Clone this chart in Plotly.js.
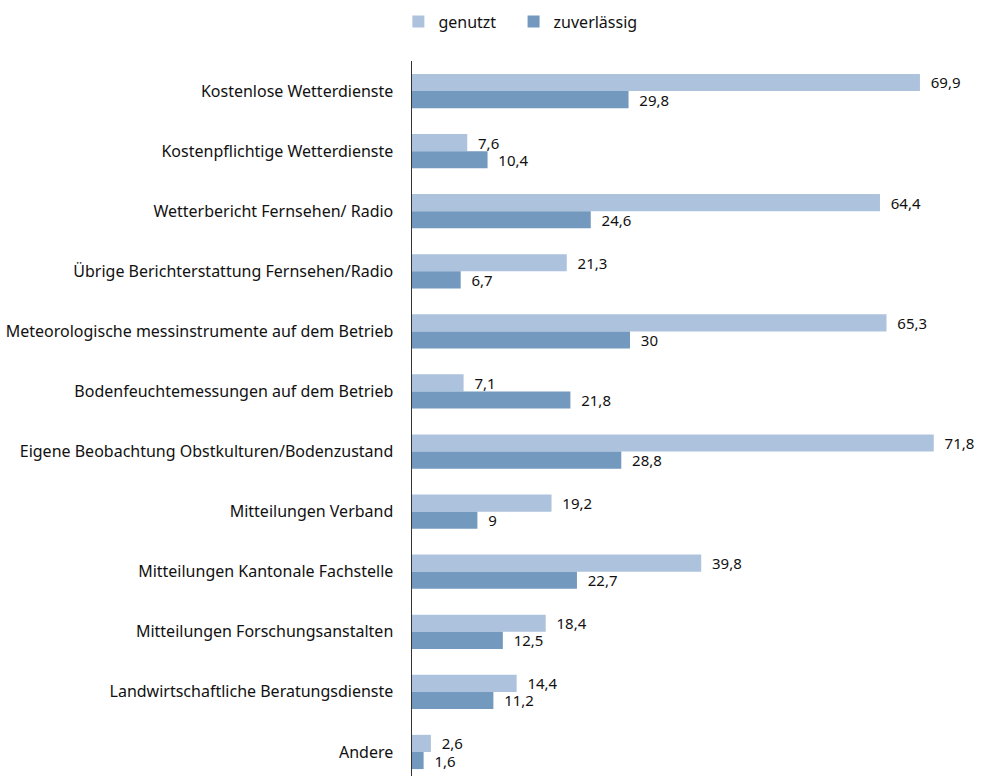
<!DOCTYPE html>
<html>
<head>
<meta charset="utf-8">
<script src="https://cdn.plot.ly/plotly-3.0.1.min.js"></script>
<style>html,body{margin:0;padding:0;background:#fff;}#chart{width:982px;height:776px;}</style>
</head>
<body>
<div id="chart"></div>
<script>
const categories = [
  "Kostenlose Wetterdienste",
  "Kostenpflichtige Wetterdienste",
  "Wetterbericht Fernsehen/ Radio",
  "Übrige Berichterstattung Fernsehen/Radio",
  "Meteorologische messinstrumente auf dem Betrieb",
  "Bodenfeuchtemessungen auf dem Betrieb",
  "Eigene Beobachtung Obstkulturen/Bodenzustand",
  "Mitteilungen Verband",
  "Mitteilungen Kantonale Fachstelle",
  "Mitteilungen Forschungsanstalten",
  "Landwirtschaftliche Beratungsdienste",
  "Andere"
];
const genutzt = [69.9, 7.6, 64.4, 21.3, 65.3, 7.1, 71.8, 19.2, 39.8, 18.4, 14.4, 2.6];
const zuverlaessig = [29.8, 10.4, 24.6, 6.7, 30, 21.8, 28.8, 9, 22.7, 12.5, 11.2, 1.6];

const fmt = v => "\u00a0\u00a0" + String(v).replace(".", ",");
const font = {family: "Noto Sans, Open Sans, sans-serif", size: 16, color: "#111"};
const valFont = {family: "Noto Sans, Open Sans, sans-serif", size: 15, color: "#111"};

const traces = [
  {type: "bar", orientation: "h", name: "genutzt\u00a0\u00a0\u00a0", y: categories, x: genutzt,
   marker: {color: "#adc2dd"}, text: genutzt.map(fmt), textposition: "outside",
   textfont: valFont, constraintext: "none", cliponaxis: false, hoverinfo: "x+y"},
  {type: "bar", orientation: "h", name: "zuverlässig", y: categories, x: zuverlaessig,
   marker: {color: "#7399bf"}, text: zuverlaessig.map(fmt), textposition: "outside",
   textfont: valFont, constraintext: "none", cliponaxis: false, hoverinfo: "x+y"}
];

const layout = {
  width: 982, height: 776,
  margin: {l: 412, r: 25, t: 61, b: 0},
  paper_bgcolor: "#fff", plot_bgcolor: "#fff",
  font: font,
  barmode: "group", bargap: 0.43, bargroupgap: 0,
  xaxis: {range: [0, 75], showgrid: false, zeroline: false, showticklabels: false, showline: false, fixedrange: true},
  yaxis: {type: "category", range: [11.4, -0.5], autorange: false, showgrid: false, zeroline: false,
          showline: true, linecolor: "#333", linewidth: 1.5, ticks: "", ticklabelstandoff: 14,
          tickfont: font, automargin: false},
  legend: {orientation: "h", x: -0.025, xanchor: "left", y: 1.055, yanchor: "middle",
           font: font, itemwidth: 30, traceorder: "normal"},
  showlegend: true
};

Plotly.newPlot("chart", traces, layout, {displayModeBar: false, staticPlot: true});
</script>
</body>
</html>
